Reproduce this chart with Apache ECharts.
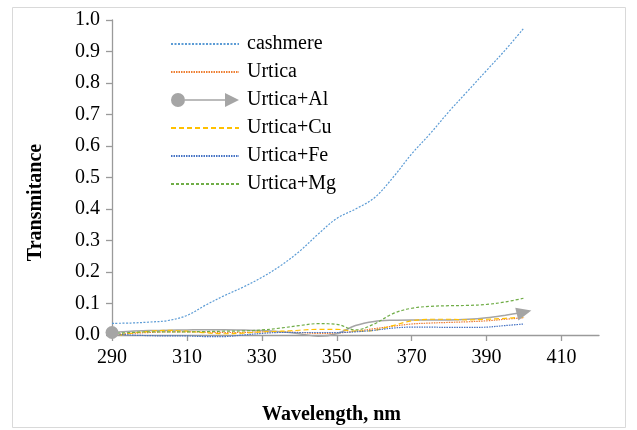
<!DOCTYPE html>
<html>
<head>
<meta charset="utf-8">
<script src="https://cdn.jsdelivr.net/npm/echarts@6/dist/echarts.min.js"></script>
<style>
  html, body { margin: 0; padding: 0; background: #fff; }
  #chart { width: 637px; height: 430px; }
</style>
</head>
<body>
<div id="chart"></div>
<script>
// wavelength, nm
const wavelengths = [290, 295, 300, 305, 310, 315, 320, 325, 330, 335, 340, 345,
  350, 355, 360, 365, 370, 375, 380, 385, 390, 395, 400];

const cashmere = [0.037, 0.038, 0.041, 0.046, 0.062, 0.095, 0.125, 0.152, 0.183, 0.22, 0.265, 0.32,
  0.37, 0.40, 0.435, 0.50, 0.575, 0.64, 0.71, 0.775, 0.84, 0.905, 0.975];
const urtica = [0.000, 0.005, 0.008, 0.010, 0.010, 0.009, 0.008, 0.008, 0.010, 0.010, 0.008, 0.005,
  0.006, 0.012, 0.020, 0.028, 0.035, 0.038, 0.040, 0.042, 0.045, 0.050, 0.055];
const urticaAl = [0.008, 0.012, 0.014, 0.015, 0.016, 0.017, 0.017, 0.016, 0.014, 0.010, 0.004, -0.004,
  0.004, 0.030, 0.043, 0.047, 0.048, 0.048, 0.048, 0.050, 0.055, 0.063, 0.072];
const urticaCu = [-0.003, 0.005, 0.012, 0.015, 0.012, 0.007, 0.004, 0.006, 0.010, 0.012, 0.015, 0.018,
  0.018, 0.012, 0.015, 0.030, 0.045, 0.050, 0.050, 0.048, 0.050, 0.053, 0.057];
const urticaFe = [0.005, 0.000, -0.002, -0.003, -0.003, -0.005, -0.005, 0.000, 0.005, 0.008, 0.008, 0.008,
  0.008, 0.010, 0.015, 0.022, 0.025, 0.025, 0.024, 0.024, 0.025, 0.030, 0.035];
const urticaMg = [0.005, 0.008, 0.010, 0.010, 0.010, 0.011, 0.012, 0.013, 0.016, 0.022, 0.030, 0.036,
  0.034, 0.016, 0.035, 0.068, 0.085, 0.091, 0.093, 0.094, 0.097, 0.105, 0.117];

const xTicks = [290, 310, 330, 350, 370, 390, 410];
const seriesNames = ["cashmere", "Urtica", "Urtica+Al", "Urtica+Cu", "Urtica+Fe", "Urtica+Mg"];

const font = "'Liberation Serif', 'Times New Roman', serif";
const axisColor = "#9a9a9a";

function pairs(arr) {
  return wavelengths.map((w, i) => [w, arr[i]]);
}

const chart = echarts.init(document.getElementById("chart"));

function lineSeries(name, data, color, type, width) {
  return {
    name: name,
    type: "line",
    data: data,
    smooth: 0.35,
    symbol: "none",
    clip: false,
    lineStyle: { color: color, width: width || 1.2, type: type },
    itemStyle: { color: color }
  };
}

// grey line: round marker at the start, arrow at the end
const last = wavelengths.length - 1;
const alData = pairs(urticaAl).map((d, i) => {
  if (i === 0) return { value: d, symbol: "circle", symbolSize: 13 };
  if (i === last) return { value: d, symbol: "triangle", symbolSize: [13, 15], symbolRotate: -76 };
  return { value: d, symbol: "none" };
});

const series = [
  lineSeries(seriesNames[0], pairs(cashmere), "#5B9BD5", [2, 1.5]),
  lineSeries(seriesNames[1], pairs(urtica), "#ED7D31", [1.5, 1]),
  Object.assign(lineSeries(seriesNames[2], alData, "#A5A5A5", "solid", 1.5), {
    symbol: "circle",
    showSymbol: true,
    showAllSymbol: true
  }),
  lineSeries(seriesNames[3], pairs(urticaCu), "#FFC000", [5, 3]),
  lineSeries(seriesNames[4], pairs(urticaFe), "#4472C4", [1.5, 1]),
  lineSeries(seriesNames[5], pairs(urticaMg), "#70AD47", [3, 2])
];

chart.setOption({
  backgroundColor: "#fff",
  animation: false,
  grid: { left: 112, right: 38, top: 20, bottom: 87 },
  legend: {
    orient: "vertical",
    left: 165,
    top: 29,
    itemWidth: 68,
    itemHeight: 14,
    itemGap: 8,
    itemStyle: { opacity: 0 },
    textStyle: { fontFamily: font, fontSize: 20, color: "#000", lineHeight: 20, padding: [0, 0, 0, 3] },
    data: [
      { name: seriesNames[0] },
      { name: seriesNames[1] },
      {
        name: seriesNames[2],
        icon: "path://M0,7a7,7 0 1,0 14,0a7,7 0 1,0 -14,0zM14,6.3h40v1.4h-40zM54,0l14,7l-14,7z",
        itemStyle: { opacity: 1 }
      },
      { name: seriesNames[3] },
      { name: seriesNames[4] },
      { name: seriesNames[5] }
    ]
  },
  xAxis: {
    type: "value",
    min: 290,
    max: 420,
    interval: 20,
    name: "Wavelength, nm",
    nameLocation: "middle",
    nameGap: 0,
    nameTextStyle: { fontFamily: font, fontSize: 20, fontWeight: "bold", color: "#000", padding: [70, 48, 0, 0] },
    splitLine: { show: false },
    axisLine: { lineStyle: { color: axisColor, width: 1.3 } },
    axisTick: { show: true, length: 6, lineStyle: { color: axisColor, width: 1.3 }, customValues: xTicks },
    axisLabel: { fontFamily: font, fontSize: 20, color: "#000", margin: 13, customValues: xTicks }
  },
  yAxis: {
    type: "value",
    min: 0,
    max: 1,
    interval: 0.1,
    name: "Transmitance",
    nameLocation: "middle",
    nameGap: 66,
    nameTextStyle: { fontFamily: font, fontSize: 20, fontWeight: "bold", color: "#000", padding: [0, 50, 0, 0] },
    splitLine: { show: false },
    axisLine: { show: true, lineStyle: { color: axisColor, width: 1.3 } },
    axisTick: { show: true, length: 6, lineStyle: { color: axisColor, width: 1.3 } },
    axisLabel: {
      fontFamily: font, fontSize: 20, color: "#000", margin: 12,
      formatter: v => v.toFixed(1)
    }
  },
  graphic: [{
    type: "rect",
    shape: { x: 12.5, y: 7.5, width: 613, height: 420 },
    style: { fill: "none", stroke: "#d9d9d9", lineWidth: 1 },
    silent: true,
    z: -1
  }],
  series: series
});
</script>
</body>
</html>
